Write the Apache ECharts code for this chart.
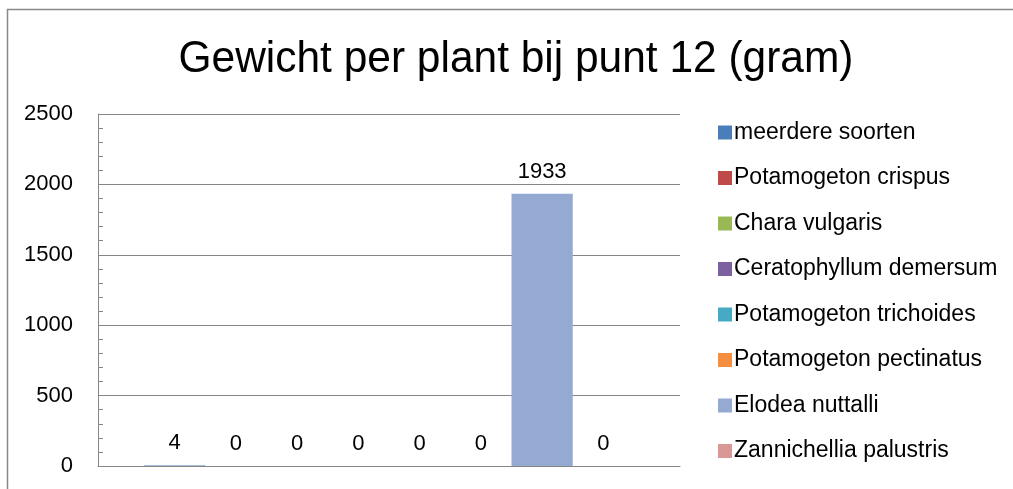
<!DOCTYPE html>
<html>
<head>
<meta charset="utf-8">
<script src="https://cdn.jsdelivr.net/npm/echarts@6/dist/echarts.min.js"></script>
<style>
  html, body { margin: 0; padding: 0; background: #fff; }
  #chart { width: 1013px; height: 489px; }
</style>
</head>
<body>
<div id="chart"></div>
<script>
// soorten en gewicht (gram) bij punt 12
var soorten = ['meerdere soorten', 'Potamogeton crispus', 'Chara vulgaris', 'Ceratophyllum demersum',
    'Potamogeton trichoides', 'Potamogeton pectinatus', 'Elodea nuttalli', 'Zannichellia palustris'];
var gewicht = [4, 0, 0, 0, 0, 0, 1933, 0];
var kleuren = ['#4A7EBB', '#BE4B48', '#98B954', '#7D60A0', '#46AAC5', '#F58F3F', '#95AAD3', '#D99795'];
var categorie = ['punt 12'];
var titel = 'Gewicht per plant bij punt 12 (gram)';

var chart = echarts.init(document.getElementById('chart'));

var series = [];
for (var i = 0; i < soorten.length; i++) {
    series.push({
        name: soorten[i],
        type: 'bar',
        data: [gewicht[i]],
        barGap: '0%',
        barCategoryGap: '15.8%',
        itemStyle: {color: kleuren[i]},
        label: {
            show: true,
            position: 'top',
            distance: 11,
            color: '#000',
            fontSize: 22,
            fontFamily: 'Liberation Sans'
        }
    });
}

var option = {
    animation: false,
    backgroundColor: '#fff',
    legend: {
        orient: 'vertical',
        left: 713,
        top: 116,
        itemWidth: 14,
        itemHeight: 14,
        itemGap: 22.5,
        icon: 'rect',
        data: soorten,
        textStyle: {fontFamily: 'Liberation Sans', fontSize: 23, color: '#000', padding: [0, 0, 0, -3]}
    },
    grid: {left: 98, right: 333, top: 114, bottom: 23},
    xAxis: {
        type: 'category',
        data: categorie,
        axisLine: {lineStyle: {color: '#868686', width: 1}},
        axisTick: {show: false},
        axisLabel: {show: false}
    },
    yAxis: {
        type: 'value',
        min: 0,
        max: 2500,
        interval: 500,
        axisLine: {show: true, lineStyle: {color: '#868686'}},
        axisTick: {show: true, inside: true, length: 5, lineStyle: {color: '#868686'}},
        minorTick: {show: true, splitNumber: 5, length: 5, lineStyle: {color: '#868686'}},
        splitLine: {lineStyle: {color: '#868686'}},
        axisLabel: {
            color: '#000', fontSize: 22, fontFamily: 'Liberation Sans', margin: 25,
            formatter: function (v) { return String(v); }
        }
    },
    graphic: [{
        type: 'polyline',
        shape: {points: [[7.5, 489], [7.5, 9.5], [1013, 9.5]]},
        style: {fill: null, stroke: '#888', lineWidth: 1.5},
        silent: true
    }, {
        type: 'text',
        x: 516,
        y: 60,
        scaleX: 0.965,
        style: {
            text: titel,
            fontFamily: 'Liberation Sans',
            fontSize: 44,
            fill: '#000',
            align: 'center',
            verticalAlign: 'middle'
        },
        silent: true
    }],
    series: series
};
chart.setOption(option);
</script>
</body>
</html>
